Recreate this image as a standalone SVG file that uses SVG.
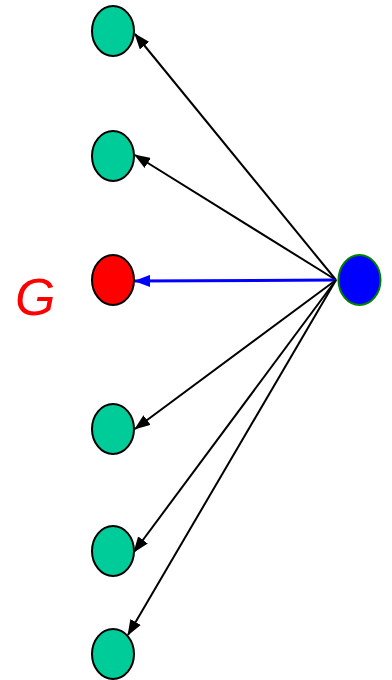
<svg xmlns="http://www.w3.org/2000/svg" width="392" height="680" viewBox="0 0 392 680">
<style>
.n{fill:#00CC99;stroke:#000;stroke-width:2}
.e{stroke:#000;stroke-width:2;fill:none;marker-end:url(#ah)}
</style>
<defs>
<marker id="ah" viewBox="0 0 16 12" refX="15" refY="6" markerWidth="16" markerHeight="12" markerUnits="userSpaceOnUse" orient="auto"><path d="M0,0 L16,6 L0,12 z" fill="#000"/></marker>
<marker id="ahb" viewBox="0 0 16 12" refX="15" refY="6" markerWidth="16" markerHeight="12" markerUnits="userSpaceOnUse" orient="auto"><path d="M0,0 L16,6 L0,12 z" fill="#0000FF"/></marker>
</defs>
<rect width="392" height="680" fill="#fff"/>
<g id="connectors">
<path class="e" d="M336,280 L135,34"/>
<path class="e" d="M336,280 L135,155"/>
<path d="M336,280 L135,281" stroke="#0000FF" stroke-width="3" fill="none" marker-end="url(#ahb)"/>
<path class="e" d="M336,280 L135,429"/>
<path class="e" d="M336,280 L134,552"/>
<path class="e" d="M336,280 L128,635"/>
</g>
<g id="n1"><ellipse class="n" cx="113" cy="31" rx="21" ry="25"/></g>
<g id="n2"><ellipse class="n" cx="113" cy="156" rx="21" ry="25"/></g>
<g id="g"><ellipse cx="113" cy="280" rx="21" ry="25" fill="#FF0000" stroke="#000" stroke-width="2"/></g>
<g id="n4"><ellipse class="n" cx="113" cy="429" rx="21" ry="25"/></g>
<g id="n5"><ellipse class="n" cx="113" cy="551" rx="21" ry="25"/></g>
<g id="n6"><ellipse class="n" cx="113" cy="654" rx="21" ry="25"/></g>
<g id="src"><ellipse cx="359.5" cy="280" rx="21" ry="25" fill="#0000FF" stroke="#008000" stroke-width="2"/></g>
<text x="15" y="315" font-family="Liberation Sans, Arial, sans-serif" font-style="italic" font-size="52" fill="#FF0000">G</text>
</svg>
